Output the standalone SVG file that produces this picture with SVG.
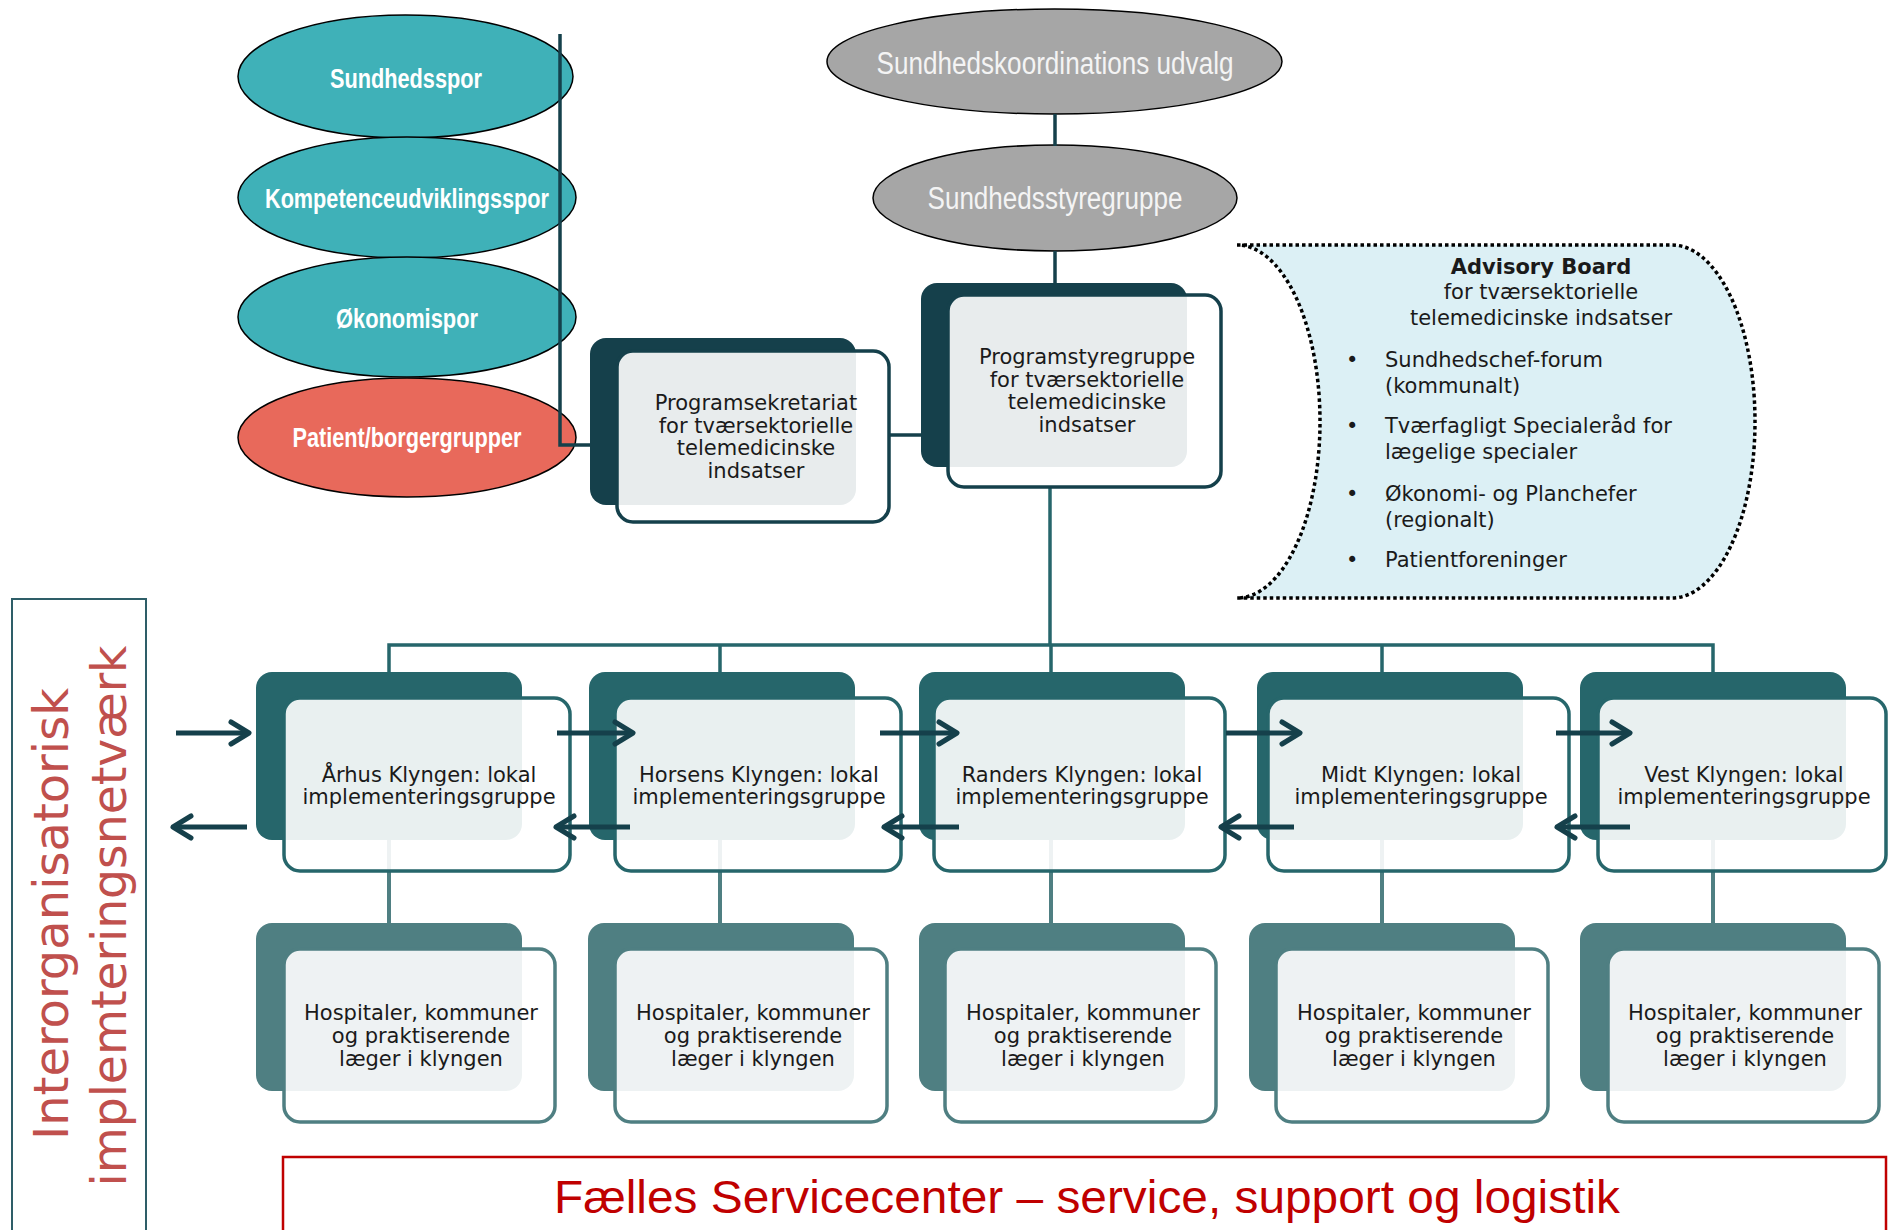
<svg xmlns="http://www.w3.org/2000/svg" width="1892" height="1230" viewBox="0 0 1892 1230">
<style>
.tealE{fill:#3fb1b8;stroke:#000;stroke-width:1.5}
.redE{fill:#e8695b;stroke:#000;stroke-width:1.5}
.grayE{fill:#a6a6a6;stroke:#000;stroke-width:1.5}
.elabel{font-family:"Liberation Sans Narrow","Liberation Sans",Arial,sans-serif;font-size:28px;font-weight:bold;fill:#fff;text-anchor:middle}
.glabel{font-family:"Liberation Sans Narrow","Liberation Sans",Arial,sans-serif;font-size:31px;fill:#f4f4f4;text-anchor:middle}
.btxt{font-family:"DejaVu Sans",Verdana,sans-serif;font-size:21px;fill:#1a1a1a;text-anchor:middle}
.atxt{font-family:"DejaVu Sans",Verdana,sans-serif;font-size:21px;fill:#1a1a1a}
.back1{fill:#15404b}
.front1{fill:#fff;fill-opacity:0.9;stroke:#15404b;stroke-width:3.5}
.back2{fill:#26666b}
.front2{fill:#fff;fill-opacity:0.9;stroke:#26666b;stroke-width:3.5}
.back3{fill:#4f7f82}
.front3{fill:#fff;fill-opacity:0.9;stroke:#4f7f82;stroke-width:3.5}
.c1{fill:none;stroke:#15404b;stroke-width:3.5}
.c2{fill:none;stroke:#26666b;stroke-width:3.5}
.c3{fill:none;stroke:#4f7f82;stroke-width:4}
.arr{fill:none;stroke:#15404b;stroke-width:5;marker-end:url(#head)}
.red{font-family:"DejaVu Sans",Verdana,sans-serif;font-size:48px;fill:#c0504d;text-anchor:middle}
.fs{font-family:"Liberation Sans Narrow","Liberation Sans",Arial,sans-serif;font-size:47px;fill:#c00000;text-anchor:middle}
</style>
<defs>
<marker id="head" viewBox="0 0 24 26" refX="21" refY="13" markerWidth="24" markerHeight="26" markerUnits="userSpaceOnUse" orient="auto" style="overflow:visible">
<path d="M3,2 L21,13 L3,24" fill="none" stroke="#15404b" stroke-width="5" stroke-linecap="round" stroke-linejoin="round"/>
</marker>
</defs>
<rect width="1892" height="1230" fill="#fff"/>

<g id="sundhedsspor"><ellipse class="tealE" cx="405.5" cy="76.5" rx="167.5" ry="61.5"/><text class="elabel" x="406" y="88" textLength="152" lengthAdjust="spacingAndGlyphs">Sundhedsspor</text></g>
<g id="kompetence"><ellipse class="tealE" cx="407" cy="197.5" rx="169" ry="60.5"/><text class="elabel" x="407" y="208" textLength="284" lengthAdjust="spacingAndGlyphs">Kompetenceudviklingsspor</text></g>
<g id="oekonomi"><ellipse class="tealE" cx="407" cy="317" rx="169" ry="60"/><text class="elabel" x="407" y="328" textLength="142" lengthAdjust="spacingAndGlyphs">Økonomispor</text></g>
<g id="patient"><ellipse class="redE" cx="407" cy="437.5" rx="169" ry="59.5"/><text class="elabel" x="407" y="447" textLength="229" lengthAdjust="spacingAndGlyphs">Patient/borgergrupper</text></g>

<g id="sundhedskoordination"><ellipse class="grayE" cx="1054.5" cy="61.5" rx="227.5" ry="52.5"/><text class="glabel" x="1055" y="74" textLength="357" lengthAdjust="spacingAndGlyphs">Sundhedskoordinations udvalg</text></g>
<g id="sundhedsstyregruppe"><ellipse class="grayE" cx="1055" cy="198" rx="182" ry="53"/><text class="glabel" x="1055" y="209" textLength="255" lengthAdjust="spacingAndGlyphs">Sundhedsstyregruppe</text></g>

<g id="connectors">
<path class="c1" d="M560,34 V445 H591"/>
<path class="c1" d="M889,435 H922"/>
<path class="c1" d="M1055,114 V146"/>
<path class="c1" d="M1055,251 V284"/>
<path class="c2" d="M1050,487 V645"/>
<path class="c2" d="M389,672 V645 H1713 V672 M720,645 V672 M1051,645 V672 M1382,645 V672"/>
<path class="c3" d="M389,840 V923 M720,840 V923 M1051,840 V923 M1382,840 V923 M1713,840 V923"/>
</g>

<g id="programsekretariat">
<rect class="back1" x="590" y="338" width="266" height="167" rx="16"/>
<rect class="front1" x="617" y="351" width="272" height="171" rx="16"/>
<text class="btxt" x="756"><tspan x="756" y="410">Programsekretariat</tspan><tspan x="756" y="433">for tværsektorielle</tspan><tspan x="756" y="455">telemedicinske</tspan><tspan x="756" y="478">indsatser</tspan></text>
</g>

<g id="programstyregruppe">
<rect class="back1" x="921" y="283" width="266" height="184" rx="16"/>
<rect class="front1" x="948" y="295" width="273" height="192" rx="16"/>
<text class="btxt" x="1087"><tspan x="1087" y="364">Programstyregruppe</tspan><tspan x="1087" y="387">for tværsektorielle</tspan><tspan x="1087" y="409">telemedicinske</tspan><tspan x="1087" y="432">indsatser</tspan></text>
</g>

<g id="advisory-board">
<path d="M1237,245 H1672 A83,176.5 0 0 1 1672,598 H1237 A83,176.5 0 0 0 1237,245 Z" fill="#dcf0f5" stroke="#000" stroke-width="3.5" stroke-dasharray="3.5 3"/>
<text class="atxt" x="1541" y="274" text-anchor="middle" font-weight="bold">Advisory Board</text>
<text class="atxt" x="1541" y="299" text-anchor="middle">for tværsektorielle</text>
<text class="atxt" x="1541" y="325" text-anchor="middle">telemedicinske indsatser</text>
<text class="atxt" x="1346" y="367">•</text><text class="atxt" x="1385" y="367">Sundhedschef-forum</text>
<text class="atxt" x="1385" y="393">(kommunalt)</text>
<text class="atxt" x="1346" y="433">•</text><text class="atxt" x="1385" y="433">Tværfagligt Specialeråd for</text>
<text class="atxt" x="1385" y="459">lægelige specialer</text>
<text class="atxt" x="1346" y="501">•</text><text class="atxt" x="1385" y="501">Økonomi- og Planchefer</text>
<text class="atxt" x="1385" y="527">(regionalt)</text>
<text class="atxt" x="1346" y="567">•</text><text class="atxt" x="1385" y="567">Patientforeninger</text>
</g>

<g id="aarhus-klyngen"><rect class="back2" x="256" y="672" width="266" height="168" rx="16"/><rect class="front2" x="284" y="698" width="286" height="173" rx="16"/><text class="btxt"><tspan x="429" y="782">Århus Klyngen: lokal</tspan><tspan x="429" y="804">implementeringsgruppe</tspan></text></g>
<g id="horsens-klyngen"><rect class="back2" x="589" y="672" width="266" height="168" rx="16"/><rect class="front2" x="615" y="698" width="286" height="173" rx="16"/><text class="btxt"><tspan x="759" y="782">Horsens Klyngen: lokal</tspan><tspan x="759" y="804">implementeringsgruppe</tspan></text></g>
<g id="randers-klyngen"><rect class="back2" x="919" y="672" width="266" height="168" rx="16"/><rect class="front2" x="934" y="698" width="291" height="173" rx="16"/><text class="btxt"><tspan x="1082" y="782">Randers Klyngen: lokal</tspan><tspan x="1082" y="804">implementeringsgruppe</tspan></text></g>
<g id="midt-klyngen"><rect class="back2" x="1257" y="672" width="266" height="168" rx="16"/><rect class="front2" x="1268" y="698" width="301" height="173" rx="16"/><text class="btxt"><tspan x="1421" y="782">Midt Klyngen: lokal</tspan><tspan x="1421" y="804">implementeringsgruppe</tspan></text></g>
<g id="vest-klyngen"><rect class="back2" x="1580" y="672" width="266" height="168" rx="16"/><rect class="front2" x="1598" y="698" width="288" height="173" rx="16"/><text class="btxt"><tspan x="1744" y="782">Vest Klyngen: lokal</tspan><tspan x="1744" y="804">implementeringsgruppe</tspan></text></g>

<g id="aarhus-partnere"><rect class="back3" x="256" y="923" width="266" height="168" rx="16"/><rect class="front3" x="284" y="949" width="271" height="173" rx="16"/><text class="btxt"><tspan x="421" y="1020">Hospitaler, kommuner</tspan><tspan x="421" y="1043">og praktiserende</tspan><tspan x="421" y="1066">læger i klyngen</tspan></text></g>
<g id="horsens-partnere"><rect class="back3" x="588" y="923" width="266" height="168" rx="16"/><rect class="front3" x="615" y="949" width="272" height="173" rx="16"/><text class="btxt"><tspan x="753" y="1020">Hospitaler, kommuner</tspan><tspan x="753" y="1043">og praktiserende</tspan><tspan x="753" y="1066">læger i klyngen</tspan></text></g>
<g id="randers-partnere"><rect class="back3" x="919" y="923" width="266" height="168" rx="16"/><rect class="front3" x="945" y="949" width="271" height="173" rx="16"/><text class="btxt"><tspan x="1083" y="1020">Hospitaler, kommuner</tspan><tspan x="1083" y="1043">og praktiserende</tspan><tspan x="1083" y="1066">læger i klyngen</tspan></text></g>
<g id="midt-partnere"><rect class="back3" x="1249" y="923" width="266" height="168" rx="16"/><rect class="front3" x="1276" y="949" width="272" height="173" rx="16"/><text class="btxt"><tspan x="1414" y="1020">Hospitaler, kommuner</tspan><tspan x="1414" y="1043">og praktiserende</tspan><tspan x="1414" y="1066">læger i klyngen</tspan></text></g>
<g id="vest-partnere"><rect class="back3" x="1580" y="923" width="266" height="168" rx="16"/><rect class="front3" x="1608" y="949" width="271" height="173" rx="16"/><text class="btxt"><tspan x="1745" y="1020">Hospitaler, kommuner</tspan><tspan x="1745" y="1043">og praktiserende</tspan><tspan x="1745" y="1066">læger i klyngen</tspan></text></g>

<g id="flow-arrows">
<path class="arr" d="M176,733 H249"/>
<path class="arr" d="M557,733 H633"/>
<path class="arr" d="M880,733 H957"/>
<path class="arr" d="M1226,733 H1300"/>
<path class="arr" d="M1556,733 H1630"/>
<path class="arr" d="M247,827 H173"/>
<path class="arr" d="M630,827 H556"/>
<path class="arr" d="M959,827 H884"/>
<path class="arr" d="M1294,827 H1221"/>
<path class="arr" d="M1630,827 H1557"/>
</g>

<g id="implementeringsnetvaerk">
<rect x="12" y="599" width="134" height="700" fill="none" stroke="#2e5e68" stroke-width="2"/>
<text class="red" transform="translate(68,914) rotate(-90)" textLength="452" lengthAdjust="spacingAndGlyphs">Interorganisatorisk</text>
<text class="red" transform="translate(126,916) rotate(-90)" textLength="541" lengthAdjust="spacingAndGlyphs">implemteringsnetværk</text>
</g>

<g id="servicecenter">
<rect x="283" y="1157" width="1603" height="100" fill="none" stroke="#c00000" stroke-width="2.5"/>
<text class="fs" x="1087" y="1213" textLength="1066" lengthAdjust="spacingAndGlyphs">Fælles Servicecenter – service, support og logistik</text>
</g>
</svg>
